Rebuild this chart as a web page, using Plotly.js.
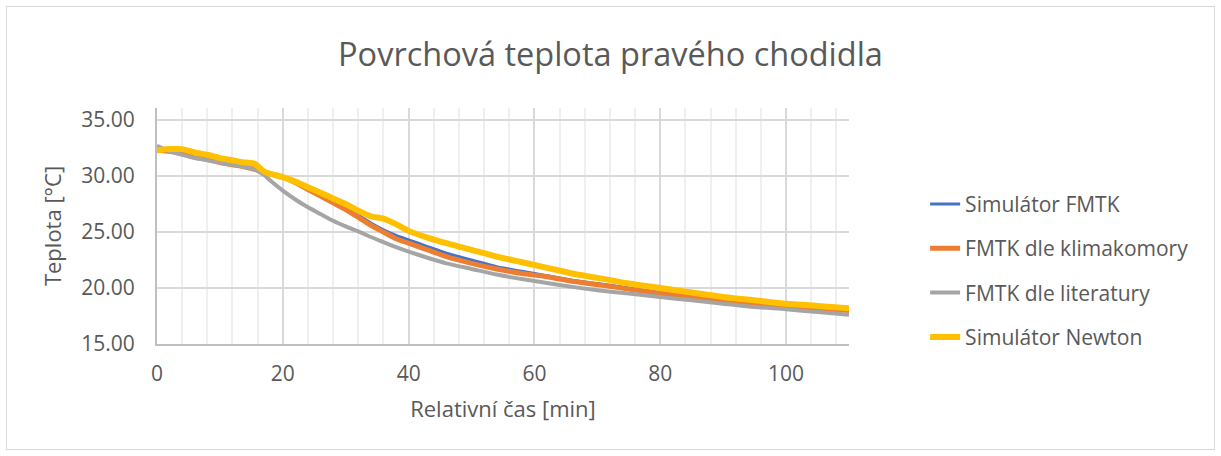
<!DOCTYPE html>
<html>
<head>
<meta charset="utf-8">
<script src="https://cdn.plot.ly/plotly-3.0.1.min.js"></script>
<style>
  html, body { margin: 0; padding: 0; background: #fff; }
  #chart { width: 1221px; height: 456px; position: relative; }
  #frame { position: absolute; left: 6px; top: 6px; width: 1207px; height: 442px;
           border: 1px solid #d9d9d9; pointer-events: none; }
</style>
</head>
<body>
<div id="chart"></div>
<div id="frame"></div>
<script>
// time [min]
const time = [0, 2, 4, 6, 8, 10, 12, 14, 15.5, 17, 18, 20, 22, 24, 26, 28, 30, 32, 34, 36, 38, 40, 43, 46, 50, 54, 58, 62, 66, 70, 75, 80, 85, 90, 95, 100, 105, 110];

const simFMTK = [32.3, 32.2, 32.0, 31.7, 31.5, 31.2, 31.0, 30.8, 30.6, 30.3, 30.2, 29.9, 29.4, 28.9, 28.3, 27.7, 27.1, 26.5, 25.8, 25.2, 24.7, 24.3, 23.7, 23.1, 22.5, 21.9, 21.5, 21.1, 20.7, 20.4, 20.0, 19.6, 19.2, 18.9, 18.6, 18.4, 18.2, 18.0];
const fmtkKlima = [32.3, 32.2, 32.0, 31.7, 31.5, 31.2, 31.0, 30.8, 30.6, 30.3, 30.2, 29.9, 29.4, 28.8, 28.2, 27.6, 27.0, 26.3, 25.6, 25.0, 24.4, 24.0, 23.4, 22.8, 22.2, 21.7, 21.3, 21.0, 20.6, 20.3, 19.9, 19.5, 19.2, 18.9, 18.6, 18.4, 18.2, 18.0];
const fmtkLit = [32.7, 32.2, 31.9, 31.6, 31.4, 31.2, 31.0, 30.8, 30.6, 30.1, 29.6, 28.7, 27.9, 27.2, 26.6, 26.0, 25.5, 25.05, 24.55, 24.1, 23.65, 23.25, 22.7, 22.2, 21.7, 21.2, 20.8, 20.45, 20.1, 19.8, 19.5, 19.2, 18.9, 18.6, 18.3, 18.1, 17.85, 17.6];
const simNewton = [32.3, 32.4, 32.4, 32.1, 31.9, 31.6, 31.4, 31.2, 31.1, 30.4, 30.2, 29.9, 29.5, 29.0, 28.5, 28.0, 27.5, 26.9, 26.4, 26.2, 25.7, 25.1, 24.5, 24.0, 23.4, 22.8, 22.3, 21.8, 21.3, 20.9, 20.4, 20.0, 19.6, 19.2, 18.9, 18.6, 18.4, 18.2];

const names = ["Simulátor FMTK", "FMTK dle klimakomory", "FMTK dle literatury", "Simulátor Newton"];
const yTicks = [15, 20, 25, 30, 35];
const yTickText = ["15.00", "20.00", "25.00", "30.00", "35.00"];

const FONT = "Open Sans, sans-serif";
const TXT = "#595959";

const series = [simFMTK, fmtkKlima, fmtkLit, simNewton];
const colors = ["#4472C4", "#ED7D31", "#A5A5A5", "#FFC000"];
const widths = [3, 5, 4, 6];

const traces = series.map((s, i) => ({
  x: time, y: s, type: "scatter", mode: "lines", name: names[i],
  legendgroup: "g" + i,
  line: { color: colors[i], width: widths[i], shape: "spline", smoothing: 0.6 }
}));

const layout = {
  width: 1221, height: 456,
  margin: { l: 157, r: 372, t: 108, b: 112 },
  paper_bgcolor: "#ffffff", plot_bgcolor: "#ffffff",
  font: { family: FONT, color: TXT, size: 21 },
  title: { text: "Povrchová teplota pravého chodidla", font: { family: FONT, size: 32.5, color: TXT },
           x: 0.5, xref: "container", xanchor: "center", y: 0.88, yanchor: "middle" },
  showlegend: true,
  legend: { x: 1.11, xanchor: "left", y: 0.31, yanchor: "middle", font: { family: FONT, size: 21, color: TXT },
            tracegroupgap: 14, bgcolor: "rgba(0,0,0,0)", traceorder: "grouped" },
  xaxis: {
    range: [0, 110], tickvals: [0, 20, 40, 60, 80, 100], ticks: "", showline: true, linecolor: "#bfbfbf", linewidth: 2,
    showgrid: true, gridcolor: "#d9d9d9", gridwidth: 2, zeroline: false,
    minor: { dtick: 4, tick0: 0, showgrid: true, gridcolor: "#efefef", gridwidth: 2, ticks: "" },
    ticklabelstandoff: 10,
    tickfont: { family: FONT, size: 21, color: TXT },
    title: { text: "Relativní čas [min]", font: { family: FONT, size: 22, color: TXT }, standoff: 15 }
  },
  yaxis: {
    range: [15, 36.07], tickvals: yTicks, ticktext: yTickText, ticks: "", showline: true, linecolor: "#bfbfbf", linewidth: 2,
    showgrid: true, gridcolor: "#d9d9d9", gridwidth: 2, zeroline: false,
    ticklabelstandoff: 16,
    tickfont: { family: FONT, size: 21, color: TXT },
    title: { text: "Teplota [°C]", font: { family: FONT, size: 22, color: TXT }, standoff: 14 }
  }
};

Plotly.newPlot("chart", traces, layout, { displayModeBar: false, staticPlot: true });
</script>
</body>
</html>
